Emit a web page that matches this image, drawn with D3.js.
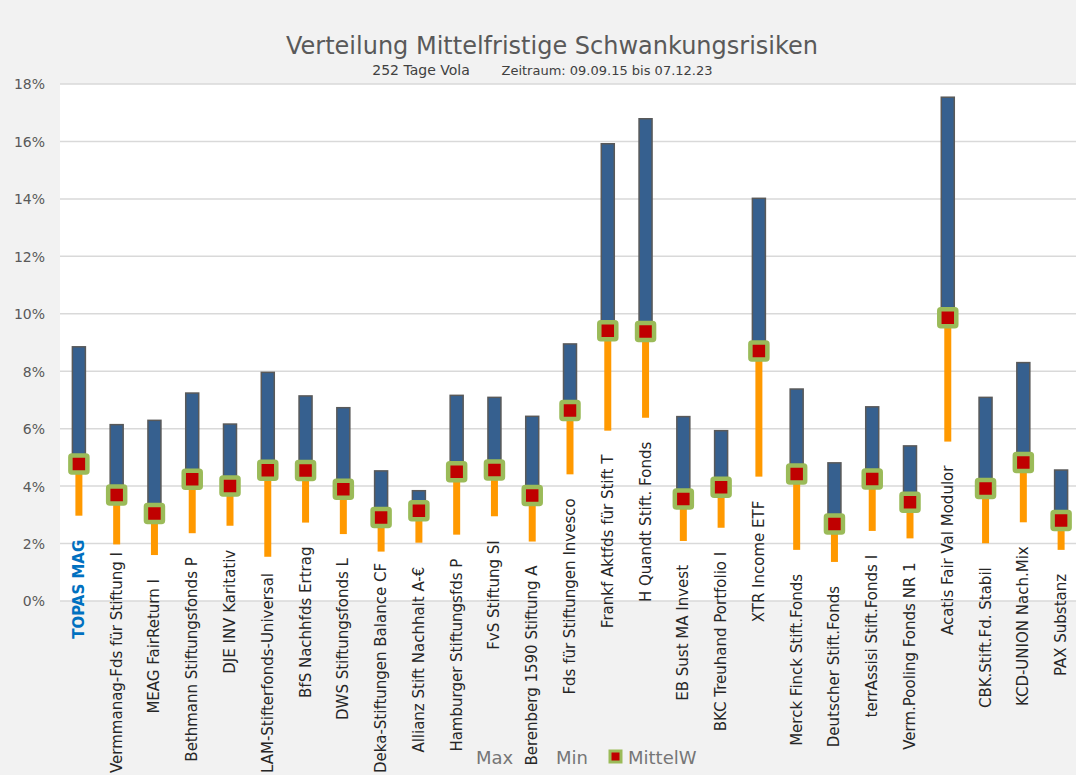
<!DOCTYPE html>
<html><head><meta charset="utf-8">
<script src="https://cdn.jsdelivr.net/npm/d3@7"></script>
<style>
html,body{margin:0;padding:0;background:#f2f2f2;}
svg{display:block;}
</style></head>
<body>
<svg id="chart" width="1076" height="775"></svg>
<script>
const categories = ["TOPAS MAG","Vermmanag-Fds für Stiftung I","MEAG FairReturn I","Bethmann Stiftungsfonds P","DJE INV Karitativ","LAM-Stifterfonds-Universal","BfS Nachhfds Ertrag","DWS Stiftungsfonds L","Deka-Stiftungen Balance CF","Allianz Stift Nachhalt A-€","Hamburger Stiftungsfds P","FvS Stiftung SI","Berenberg 1590 Stiftung A","Fds für Stiftungen Invesco","Frankf Aktfds für Stift T","H Quandt Stift. Fonds","EB Sust MA Invest","BKC Treuhand Portfolio I","XTR Income ETF","Merck Finck Stift.Fonds","Deutscher Stift.Fonds","terrAssisi Stift.Fonds I","Verm.Pooling Fonds NR 1","Acatis Fair Val Modulor","CBK.Stift.Fd. Stabil","KCD-UNION Nach.Mix","PAX Substanz"];
const maxValues  = [8.85,6.14,6.29,7.24,6.16,7.96,7.14,6.73,4.53,3.84,7.16,7.09,6.43,8.95,15.92,16.79,6.42,5.93,14.02,7.38,4.81,6.76,5.40,17.54,7.09,8.30,4.56];
const meanValues = [4.77,3.69,3.05,4.24,4.00,4.55,4.54,3.89,2.91,3.14,4.50,4.56,3.67,6.63,9.41,9.38,3.55,3.96,8.70,4.42,2.68,4.25,3.44,9.86,3.92,4.82,2.80];
const minValues  = [2.97,1.97,1.60,2.36,2.62,1.54,2.73,2.33,1.72,2.03,2.31,2.95,2.07,4.41,5.93,6.38,2.09,2.55,4.33,1.78,1.36,2.44,2.18,5.55,2.01,2.74,1.78];
const yTicks = [0,2,4,6,8,10,12,14,16,18];
const highlight = "TOPAS MAG";
const titleText = "Verteilung Mittelfristige Schwankungsrisiken";
const subtitleLeft = "252 Tage Vola";
const subtitleRight = "Zeitraum: 09.09.15 bis 07.12.23";
const legendLabels = ["Max","Min","MittelW"];

const FONT = "'DejaVu Sans', sans-serif";
const svg = d3.select("#chart");
const W = 1076, H = 775;
const plot = {left:60, right:1080, top:84, bottom:601};

svg.append("rect").attr("x",0).attr("y",0).attr("width",W).attr("height",H).attr("fill","#f2f2f2");
svg.append("rect").attr("x",plot.left).attr("y",plot.top).attr("width",plot.right-plot.left).attr("height",plot.bottom-plot.top).attr("fill","#ffffff");

const x = d3.scaleBand().domain(categories).range([plot.left, plot.right]).paddingInner(0).paddingOuter(0);
const y = d3.scaleLinear().domain([0,18]).range([plot.bottom, plot.top]);

// gridlines
svg.append("g").selectAll("line").data(yTicks).join("line")
  .attr("x1",plot.left).attr("x2",plot.right)
  .attr("y1",d=>y(d)).attr("y2",d=>y(d))
  .attr("stroke","#d9d9d9").attr("stroke-width",1.5);

// y axis labels
const yAxis = d3.axisLeft(y).tickValues(yTicks).tickFormat(d=>d+"%").tickSize(0).tickPadding(0);
const ya = svg.append("g").attr("transform",`translate(45,0)`).call(yAxis);
ya.select(".domain").remove();
ya.selectAll("text").attr("font-family",FONT).attr("font-size",14).attr("fill","#595959").attr("dy","0.35em");

const data = categories.map((c,i)=>({c, max:maxValues[i], mean:meanValues[i], min:minValues[i]}));
const cx = d => x(d.c) + x.bandwidth()/2;

// orange min->mean
svg.append("g").selectAll("line").data(data).join("line")
  .attr("x1",cx).attr("x2",cx)
  .attr("y1",d=>y(d.min)).attr("y2",d=>y(d.mean))
  .attr("stroke","#ff9900").attr("stroke-width",7);

// blue mean->max
const bw = 13;
svg.append("g").selectAll("rect").data(data).join("rect")
  .attr("x",d=>cx(d)-bw/2).attr("width",bw)
  .attr("y",d=>y(d.max)).attr("height",d=>y(d.mean)-y(d.max))
  .attr("fill","#36608f").attr("stroke","#595959").attr("stroke-width",1.5);

// markers
const ms = 17;
svg.append("g").selectAll("rect").data(data).join("rect")
  .attr("x",d=>cx(d)-ms/2).attr("y",d=>y(d.mean)-ms/2)
  .attr("width",ms).attr("height",ms).attr("rx",1.5)
  .attr("fill","#c00000").attr("stroke","#9bbb59").attr("stroke-width",4.5);

// category labels (below min points)
const lblSize = 15;
const lg = svg.append("g");
data.forEach(d=>{
  const t = lg.append("text")
    .attr("font-family",FONT).attr("font-size",lblSize)
    .attr("fill", d.c===highlight ? "#0070c0" : "#262626")
    .attr("font-weight", d.c===highlight ? "bold" : "normal")
    .attr("text-anchor","end")
    .attr("dominant-baseline","central")
    .text(d.c);
  const len = t.node().getComputedTextLength();
  let top = y(d.min) + 24;
  if (top + len > 773) top = 773 - len;
  t.attr("transform",`translate(${cx(d)},${top}) rotate(-90)`);
});

// title
svg.append("text").attr("x",552).attr("y",54).attr("text-anchor","middle")
  .attr("font-family",FONT).attr("font-size",24).attr("fill","#595959").text(titleText);
svg.append("text").attr("x",421).attr("y",75).attr("text-anchor","middle")
  .attr("font-family",FONT).attr("font-size",14).attr("fill","#404040").text(subtitleLeft);
svg.append("text").attr("x",607).attr("y",75).attr("text-anchor","middle")
  .attr("font-family",FONT).attr("font-size",13).attr("fill","#404040").text(subtitleRight);

// legend
const leg = svg.append("g").attr("font-family",FONT).attr("font-size",18).attr("fill","#767676");
leg.append("text").attr("x",476).attr("y",764).text(legendLabels[0]);
leg.append("text").attr("x",556).attr("y",764).text(legendLabels[1]);
leg.append("rect").attr("x",610).attr("y",751).attr("width",11).attr("height",11)
  .attr("fill","#c00000").attr("stroke","#9bbb59").attr("stroke-width",3);
leg.append("text").attr("x",628).attr("y",764).text(legendLabels[2]);
</script>
</body></html>
